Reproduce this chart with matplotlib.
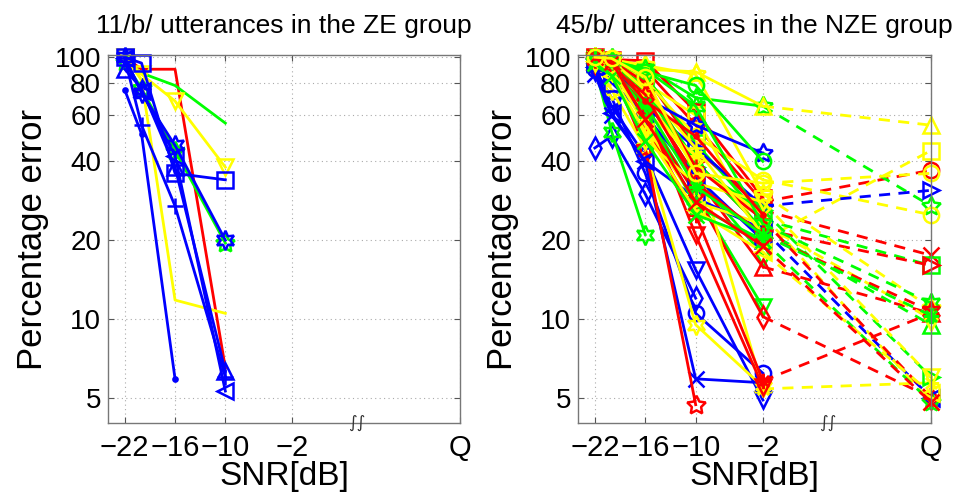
import numpy as np
import matplotlib
matplotlib.use("Agg")
import matplotlib.pyplot as plt

plt.rcParams['font.family'] = ['Liberation Sans', 'DejaVu Sans']

nan = np.nan
# SNR positions, Q (clean) is drawn at 18
snr = [-22, -20, -16, -10, -2, 18]
xticks = [-22, -16, -10, -2, 18]
xticklabels = ['\u221222', '\u221216', '\u221210', '\u22122', 'Q']
yticks = [5, 10, 20, 40, 60, 80, 100]

# ZE group: 11 utterances (colour, marker, error at -22,-20,-16,-10,-2,Q)
ze_colors = ['r', 'g', 'g', 'y', 'y', 'b', 'b', 'b', 'b', 'b', 'b']
ze_markers = ['none', 'none', 'p', 'v', 'none', 's', 'h', '+', '.', '^', '<']
ze_values = [
    [100, 90, 90, 6.5, nan, nan],
    [97, 87, 78, 56, nan, nan],
    [96, 76, 44, 19.5, nan, nan],
    [100, 86, 68, 38, nan, nan],
    [100, 82, 11.8, 10.5, nan, nan],
    [100, 95, 36, 34, nan, nan],
    [100, 73, 46, 20, nan, nan],
    [99, 55, 27, 6.0, nan, nan],
    [75, 51, 5.9, nan, nan, nan],
    [90, 76, 38, 6.3, nan, nan],
    [99, 74, 42, 5.3, nan, nan],
]

# NZE group: 45 utterances
nze_colors = ['r', 'g', 'b', 'y', 'r', 'g', 'b', 'y', 'r', 'g', 'b', 'y',
              'r', 'g', 'b', 'y', 'r', 'g', 'b', 'y', 'r', 'g', 'b', 'y',
              'r', 'g', 'b', 'y', 'r', 'g', 'b', 'y', 'r', 'g', 'y', 'r',
              'g', 'y', 'r', 'g', 'y', 'r', 'g', 'r', 'y']
nze_markers = ['o', 'p', 'd', '^', 's', 'h', 'o', 's', 'x', 's', 'v', 'h',
               '>', 'd', 'x', 'o', '^', 'v', '>', 'p', 'd', '^', 'p', '*',
               'p', '>', '<', 'x', '*', 'o', 's', 'd', 'v', 'p', 'v', '+',
               'h', '+', 'h', '*', '<', '.', 'x', 'x', 'o']
nze_values = [
    [99, 98, 90, 55, 28, 37],
    [100, 99, 92, 70, 65, 27],
    [45, 50, 30, 12, nan, nan],
    [98, 96, 90, 88, 65, 55],
    [100, 98, 97, 62, 29, nan],
    [92, 52, 21, nan, nan, nan],
    [90, 70, 36, 10.5, 6.2, nan],
    [99, 97, 80, 60, 20, 44],
    [98, 96, 85, 45, 26, 17.5],
    [99, 95, 85, 47, 24, 16],
    [88, 65, 42, 15.4, 4.9, nan],
    [95, 75, 45, 9.5, 5.5, nan],
    [99, 95, 75, 40, 22, 16],
    [97, 90, 70, 35, 17.6, nan],
    [86, 60, 40, 5.9, 5.7, nan],
    [100, 95, 82, 50, 34, 25],
    [97, 92, 70, 35, 15.8, 10.5],
    [96, 88, 62, 30, 11.1, nan],
    [95, 88, 65, 45, 27, 31],
    [100, 98, 93, 86, 30, 11],
    [96, 90, 60, 30, 10.2, 5.0],
    [99, 94, 78, 40, 22, 9.5],
    [97, 90, 70, 55, 43, nan],
    [97, 92, 62, 42, 5.4, 5.7],
    [98, 90, 45, 4.7, nan, nan],
    [98, 93, 75, 38, 26, 6.0],
    [92, 61, 40, 29, 22, 5.0],
    [99, 94, 70, 38, 25, 4.8],
    [99, 94, 55, 25, 5.8, 10.5],
    [100, 96, 88, 78, 40, nan],
    [96, 80, 60, 35, 20, nan],
    [98, 90, 55, 28, 23, 10],
    [97, 91, 65, 20.9, 5.5, nan],
    [97, 92, 63, 27, 20, 4.8],
    [96, 88, 48, 33, 28, 6.0],
    [100, 97, 80, 38, 24, 5.0],
    [99, 97, 90, 65, 23, 11.5],
    [100, 97, 75, 45, 21, nan],
    [99, 93, 72, 33, 21, 10.7],
    [100, 98, 66, 32, 21, 10.3],
    [97, 85, 52, 26, 18, 5.2],
    [98, 95, 68, 50, 25, nan],
    [95, 85, 48, 25, 20, nan],
    [100, 96, 58, 28, 19, 4.8],
    [100, 99, 84, 36, 33, 36],
]

colmap = {'r': '#ff0000', 'g': '#00ff00', 'b': '#0000ff', 'y': '#ffff00'}
# matlab style markers: p = pentagram, h = hexagram, * = asterisk
mkmap = {'p': (5, 1, 0), 'h': (6, 1, 0), '*': (8, 2, 0)}


def draw_utt(ax, col, mk, vals):
    c = colmap[col]
    m = mkmap.get(mk, mk)
    ms = 11
    if mk == '.':
        ms = 6
    elif mk in ('p', 'h'):
        ms = 14
    fc = c if mk == '.' else 'none'
    ax.plot(snr[:5], vals[:5], '-', color=c, lw=2, marker=m, ms=ms,
            mfc=fc, mew=1.8, clip_on=False)
    if not np.isnan(vals[5]) and not np.isnan(vals[4]):
        ax.plot(snr[4:], vals[4:], '--', color=c, lw=2, dashes=(4, 3))
        ax.plot([snr[5]], [vals[5]], ls='none', color=c, marker=m, ms=ms,
                mfc=fc, mew=1.8, clip_on=False)


def style_ax(ax, title):
    ax.set_yscale('log')
    ax.set_xlim(-24, 18)
    ax.set_ylim(4.0, 102)
    ax.set_xticks(xticks)
    ax.set_xticklabels(xticklabels)
    ax.set_yticks(yticks)
    ax.set_yticklabels([str(t) for t in yticks])
    ax.minorticks_off()
    ax.tick_params(direction='in', length=4, top=True, right=True,
                   color='#555555')
    ax.tick_params(axis='x', labelsize=21, pad=8)
    ax.tick_params(axis='y', labelsize=20, pad=5)
    ax.grid(True, linestyle=(0, (1, 3)), color='#aaaaaa', lw=0.8)
    for s in ax.spines.values():
        s.set_color('#777777')
        s.set_linewidth(1.0)
    ax.set_title(title, fontsize=19, pad=16)
    ax.set_xlabel('SNR[dB]', fontsize=24, va='top')
    ax.xaxis.set_label_coords(0.5, -0.103)
    ax.set_ylabel('Percentage error', fontsize=25, labelpad=4)
    ax.text(5.7, 4.0, '\u222b\u222b', fontsize=12, ha='center', va='center',
            color='#333333', family=['DejaVu Sans'])


fig = plt.figure(figsize=(9.54, 4.98), dpi=100)
ax1 = fig.add_axes([108 / 954, 1 - 423 / 498, 352 / 954, 368 / 498])
ax2 = fig.add_axes([578 / 954, 1 - 423 / 498, 353 / 954, 368 / 498])

for col, mk, vals in zip(ze_colors, ze_markers, ze_values):
    draw_utt(ax1, col, mk, vals)
for col, mk, vals in zip(nze_colors, nze_markers, nze_values):
    draw_utt(ax2, col, mk, vals)

style_ax(ax1, '11/b/ utterances in the ZE group')
style_ax(ax2, '45/b/ utterances in the NZE group')

fig.savefig('out.png', dpi=100)
